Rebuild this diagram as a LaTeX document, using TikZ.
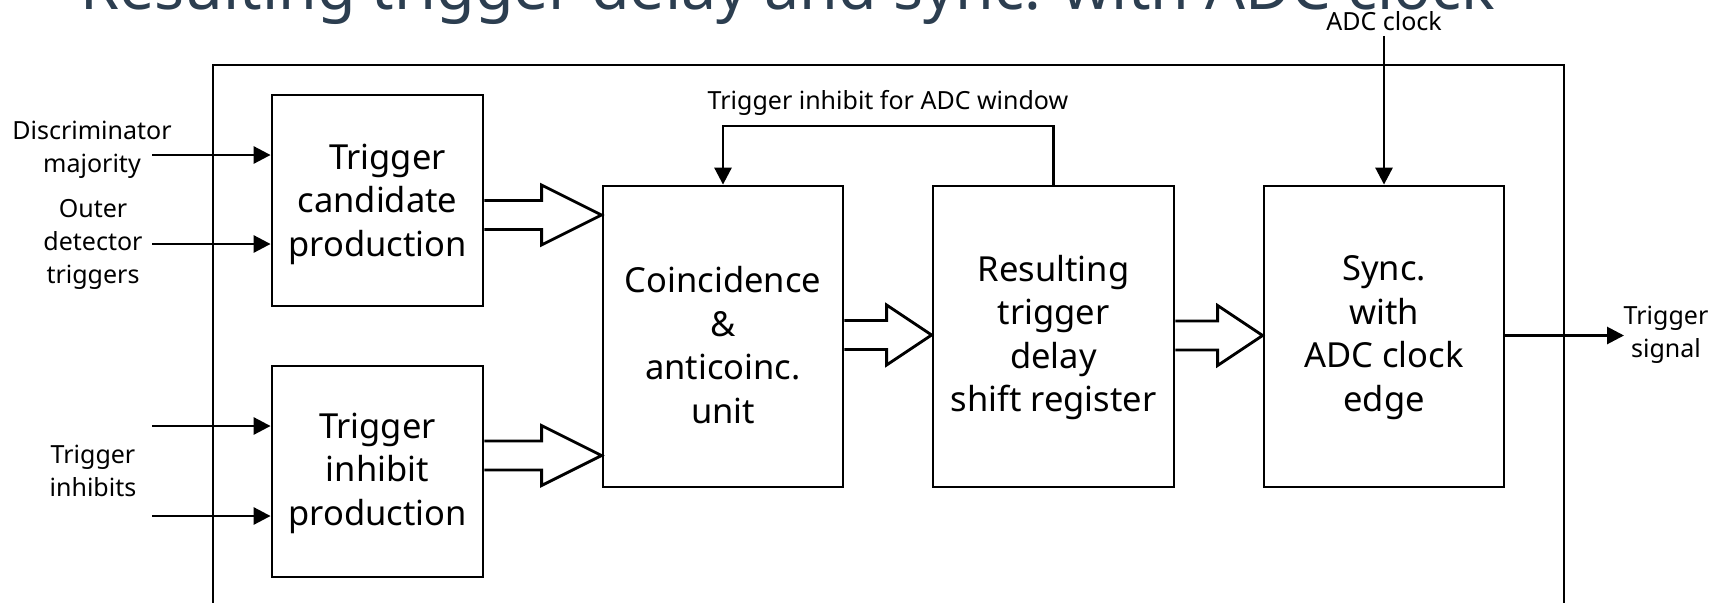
\documentclass[tikz,border=0pt]{standalone}
\usepackage{fontspec}
\setmainfont{Noto Sans}
\usepackage{graphicx}
\usetikzlibrary{arrows.meta,calc}
\definecolor{titlecol}{HTML}{2C3E50}
\tikzset{
  blk/.style={draw, line width=2.8pt, inner sep=0pt},
  bigtxt/.style={align=center, inner sep=0pt, font=\fontsize{34.5}{43.5}\selectfont},
  lbl/.style={align=center, inner sep=0pt, font=\fontsize{25}{33}\selectfont},
  arr/.style={line width=2.8pt, -{Triangle[length=17pt,width=17pt]}},
  hollow/.style={line width=2.8pt, line join=miter},
  frame/.style={line width=2.8pt}
}
\newcommand\hollowarrow[4]{%
  \draw[hollow] let \p1=(#1.east |- 0,#3), \p2=(#2.west |- 0,#3) in
   (\x1,\y1+14.5pt) -- (\x2-#4pt,\y1+14.5pt) -- (\x2-#4pt,\y1+30pt) -- (\x2,\y1)
   -- (\x2-#4pt,\y1-30pt) -- (\x2-#4pt,\y1-14.5pt) -- (\x1,\y1-14.5pt);}
\begin{document}
\begin{tikzpicture}[x=1pt,y=-1pt]
\useasboundingbox (0,0) rectangle (1720,602);
% title (cut off at top)
\node[anchor=base west, inner sep=0pt, text=titlecol] (title) at (80,10)
  {\resizebox{1415pt}{!}{\fontsize{50}{50}\selectfont Resulting trigger delay and sync. with ADC clock}};
% outer frame
\draw[frame] (213,612) -- (213,65) -- (1564,65) -- (1564,612);
% blocks
\node[blk, minimum width=211pt, minimum height=211pt] (b1) at (377.5,200.5) {};
\node[blk, minimum width=211pt, minimum height=211pt] (b2) at (377.5,471.5) {};
\node[blk, minimum width=240pt, minimum height=301pt] (b3) at (723,336.5) {};
\node[blk, minimum width=241pt, minimum height=301pt] (b4) at (1053.5,336.5) {};
\node[blk, minimum width=240pt, minimum height=301pt] (b5) at (1384,336.5) {};
% block texts
\node[bigtxt] (t1) at (377.5,204) {\hspace*{20pt}Trigger\\candidate\\production};
\node[bigtxt] (t2) at (377.5,473) {Trigger\\inhibit\\production};
\node[bigtxt] (t3) at (723,345) {Coincidence\\\&\\anticoinc.\\unit};
\node[bigtxt] (t4) at (1053.5,337.5) {Resulting\\trigger\\delay\\shift register};
\node[bigtxt] (t5) at (1384,337.5) {Sync.\\with\\ADC clock\\edge};
% labels
\node[lbl] (ldisc) at (92,150) {Discriminator\\majority};
\node[lbl] (louter) at (93,244) {Outer\\detector\\triggers};
\node[lbl] (linh) at (93,471) {Trigger\\inhibits};
\node[lbl] (lfb) at (888,103) {Trigger inhibit for ADC window};
\node[lbl] (lclk) at (1384,21) {ADC clock};
\node[lbl] (lts) at (1666,335) {Trigger\\signal};
% free ends
\coordinate (cdisc) at (152,155);
\coordinate (couter) at (152,244);
\coordinate (cinh1) at (152,426);
\coordinate (cinh2) at (152,516);
\coordinate (cclk) at (1384,36);
\coordinate (cts) at (1624,335.5);
% thin arrows
\draw[arr] (cdisc) -- (b1.west |- cdisc);
\draw[arr] (couter) -- (b1.west |- couter);
\draw[arr] (cinh1) -- (b2.west |- cinh1);
\draw[arr] (cinh2) -- (b2.west |- cinh2);
\draw[arr] (cclk) -- (cclk |- b5.north);
\draw[arr] (b5.east |- cts) -- (cts);
\draw[arr] (b4.north) -- (b4.north |- 0,126) -| (b3.north);
% hollow bus arrows
\hollowarrow{b1}{b3}{215}{60}
\hollowarrow{b2}{b3}{455.5}{60}
\hollowarrow{b3}{b4}{335}{45}
\hollowarrow{b4}{b5}{335.5}{45}
\end{tikzpicture}
\end{document}
